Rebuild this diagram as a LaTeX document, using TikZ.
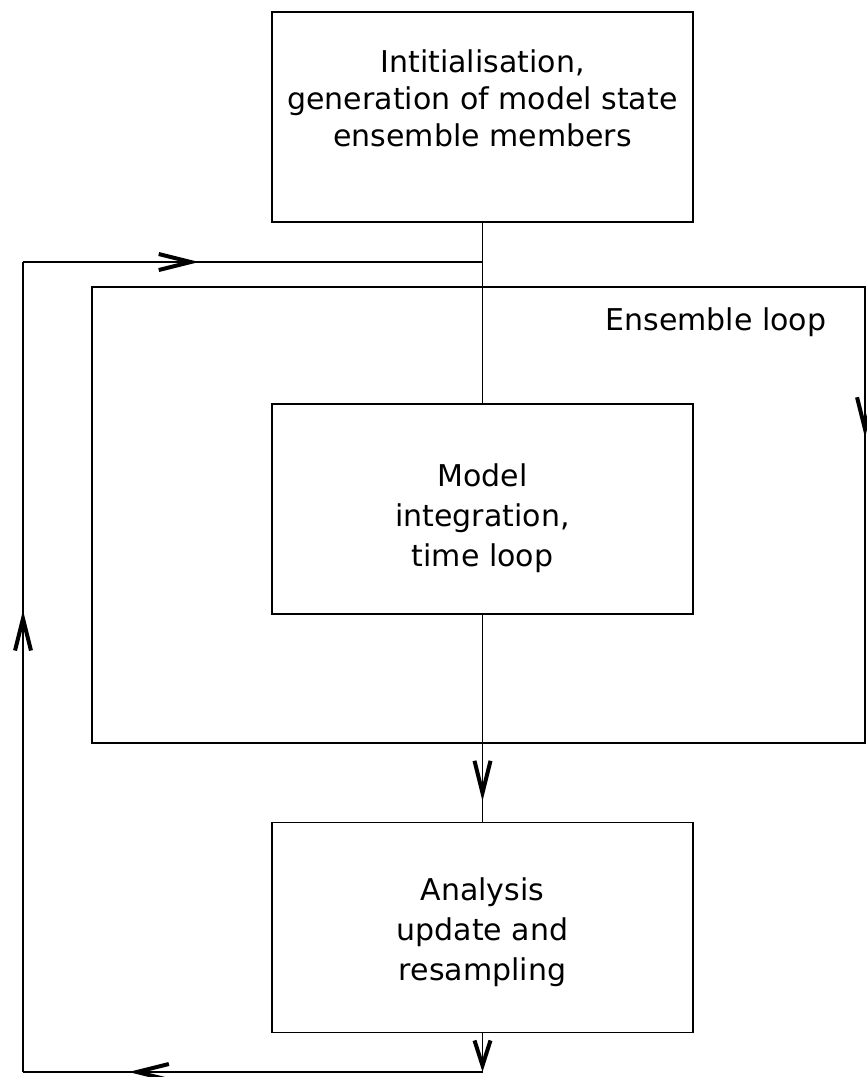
\documentclass[tikz,border=0pt]{standalone}
\usepackage{fontspec}
\setmainfont{DejaVu Sans}
\usepackage{tikz}
\usetikzlibrary{positioning}
\usetikzlibrary{arrows.meta}
\usetikzlibrary{decorations.markings}

\tikzset{
  blockbox/.style={draw, line width=1.6pt, minimum width=421pt, minimum height=210pt, inner sep=0pt},
  blocktext/.style={align=center, font=\fontsize{30}{40}\selectfont},
  barb/.tip={Straight Barb[length=32pt, width=16pt, line width=4pt]},
  shortbarb/.tip={Straight Barb[length=25pt, width=16pt, line width=4pt]},
  midarrow/.style={postaction={decorate}, decoration={markings, mark=at position #1 with {\arrow{barb}}}}
}

\begin{document}
\begin{tikzpicture}[x=1pt, y=-1pt, line width=1.6pt]
\useasboundingbox (0,0) rectangle (867,1077);

%boxes
	\node[blockbox] (init) at (482.5, 117) {};
	\node[blocktext, font=\fontsize{30}{37}\selectfont] (inittxt) at (482.5, 98) {Intitialisation,\\generation of model state\\ensemble members};

	\node[blockbox] (model) at (482.5, 509) {};
	\node[blocktext] (modeltxt) at (482.5, 518) {Model\\integration,\\time loop};

	\node[blockbox] (analysis) at (482.5, 927.5) {};
	\node[blocktext] (analysistxt) at (482.5, 932) {Analysis\\update and\\resampling};

%ensemble loop
	\draw (92, 287) rectangle (865, 743);
	\coordinate (ensNE) at (865, 287);
	\coordinate (ensSE) at (865, 743);
	\draw[midarrow=0.33] (ensNE) -- (ensSE);
	\node[font=\fontsize{30}{36}\selectfont] (enslabel) at (716, 322) {Ensemble loop};

%outer loop corners
	\coordinate (join) at (482.5, 262);
	\coordinate (tl) at (23, 262);
	\coordinate (bl) at (23, 1072);
	\coordinate (br) at (482.5, 1072);

%connectors
	\draw (init) -- (model);
	\draw[midarrow=0.9] (model) -- (analysis);
	\draw[-shortbarb] (analysis) -- (br);

	\draw[midarrow=0.77] (br) -- (bl);
	\draw[midarrow=0.57] (bl) -- (tl);
	\draw[midarrow=0.383] (tl) -- (join);

\end{tikzpicture}
\end{document}
